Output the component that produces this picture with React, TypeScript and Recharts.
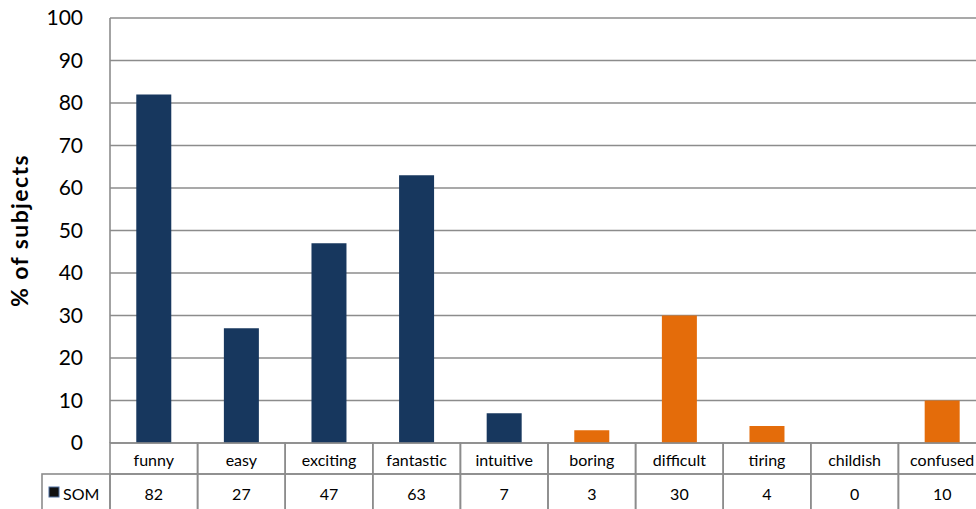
import React from 'react';
import { BarChart, Bar, XAxis, YAxis, CartesianGrid, Cell } from 'recharts';

const CATEGORIES = ['funny', 'easy', 'exciting', 'fantastic', 'intuitive', 'boring', 'difficult', 'tiring', 'childish', 'confused'];
const SOM = [82, 27, 47, 63, 7, 3, 30, 4, 0, 10];
const TONE = ['pos', 'pos', 'pos', 'pos', 'pos', 'neg', 'neg', 'neg', 'neg', 'neg'];
const Y_TICKS = [0, 10, 20, 30, 40, 50, 60, 70, 80, 90, 100];

const COLORS: Record<string, string> = {
  pos: '#17375E',
  neg: '#E46C0A',
};

const FONT = 'Lato, "Open Sans", sans-serif';
const LINE = '#8c8c8c';

const CHART_W = 990;
const CHART_H = 509;
const MARGIN = { top: 18, right: 4, bottom: 0, left: 0 };
const Y_AXIS_W = 110;
const X_AXIS_H = 66;
const ROW1_H = 31;
const CELL_W = (CHART_W - MARGIN.left - MARGIN.right - Y_AXIS_W) / CATEGORIES.length;

const data = CATEGORIES.map((name, i) => ({ name, som: SOM[i], tone: TONE[i] }));

// data table under the plot: category row + value row, legend cell on the first column
const TableTick = (props: any) => {
  const { x, y, index, payload } = props;
  const left = x - CELL_W / 2;
  const row2 = y + ROW1_H;
  const row2H = X_AXIS_H - ROW1_H + 4;
  return (
    <g>
      <rect x={left} y={y} width={CELL_W} height={ROW1_H} fill="none" stroke={LINE} strokeWidth={1.6} />
      <rect x={left} y={row2} width={CELL_W} height={row2H} fill="none" stroke={LINE} strokeWidth={1.6} />
      <text x={x} y={y + ROW1_H / 2 + 1} textAnchor="middle" dominantBaseline="central" fontSize={16} fontFamily={FONT} fill="#000">
        {payload.value}
      </text>
      <text x={x} y={row2 + 19} textAnchor="middle" dominantBaseline="central" fontSize={16} fontFamily={FONT} fill="#000">
        {SOM[index]}
      </text>
      {index === 0 && (
        <g>
          <rect x={left - 68} y={row2} width={68} height={row2H} fill="none" stroke={LINE} strokeWidth={1.6} />
          <rect x={left - 61} y={row2 + 13} width={10} height={10} fill="#111" stroke="#4f6f9f" strokeWidth={1} />
          <text x={left - 47} y={row2 + 19} dominantBaseline="central" fontSize={16} fontFamily={FONT} fill="#000">
            SOM
          </text>
        </g>
      )}
    </g>
  );
};

const AxisTitle = (props: any) => {
  const vb = props.viewBox || {};
  const cy = vb.y + vb.height / 2;
  return (
    <text
      x={19}
      y={cy}
      transform={`rotate(-90, 19, ${cy})`}
      textAnchor="middle"
      dominantBaseline="central"
      fontSize={23}
      letterSpacing={1.4}
      fontWeight="bold"
      fontFamily={FONT}
      fill="#000"
    >
      % of subjects
    </text>
  );
};

export default function App() {
  return (
    <div style={{ position: 'fixed', left: 0, top: 0, width: 976, height: 509, overflow: 'hidden', background: '#fff' }}>
      <BarChart width={CHART_W} height={CHART_H} data={data} margin={MARGIN} barCategoryGap="30%">
        <CartesianGrid vertical={false} stroke={LINE} strokeWidth={1.6} />
        <XAxis
          dataKey="name"
          height={X_AXIS_H}
          axisLine={false}
          tickLine={false}
          tickSize={0}
          tickMargin={0}
          interval={0}
          tick={<TableTick />}
        />
        <YAxis
          width={Y_AXIS_W}
          domain={[0, 100]}
          ticks={Y_TICKS}
          interval={0}
          axisLine={{ stroke: LINE, strokeWidth: 1.6 }}
          tickLine={false}
          tickSize={0}
          tickMargin={27}
          tick={{ fontSize: 21, fontFamily: FONT, fill: '#000' }}
          label={<AxisTitle />}
        />
        <Bar dataKey="som" isAnimationActive={false}>
          {data.map((d, i) => (
            <Cell key={`cell-${i}`} fill={COLORS[d.tone]} />
          ))}
        </Bar>
      </BarChart>
    </div>
  );
}
